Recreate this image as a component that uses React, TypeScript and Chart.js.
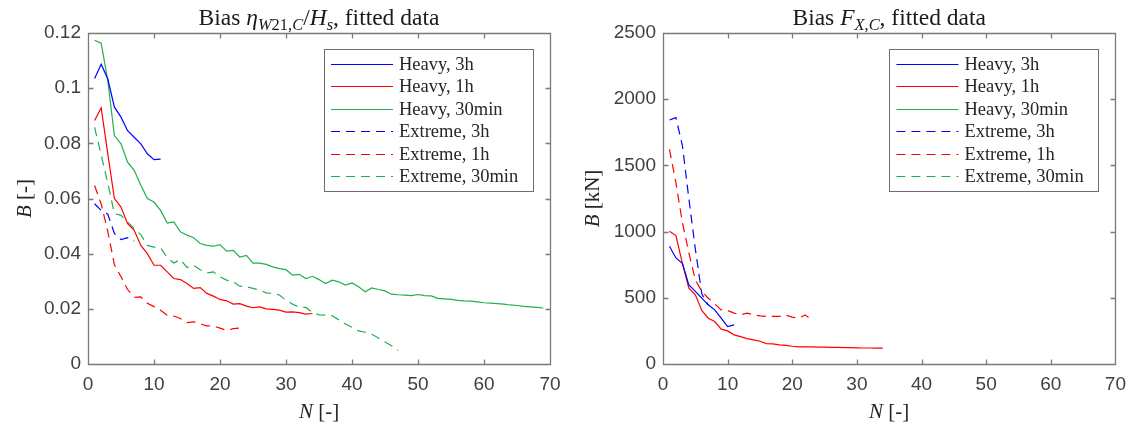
import React, { useEffect, useRef } from "react";
import { Chart, registerables } from "chart.js";

Chart.register(...registerables);

// ---------------- Data ----------------
const SERIES_LABELS = [
  "Heavy, 3h",
  "Heavy, 1h",
  "Heavy, 30min",
  "Extreme, 3h",
  "Extreme, 1h",
  "Extreme, 30min",
];

const X_TICKS = [0, 10, 20, 30, 40, 50, 60, 70];
const ETA_TICKS = [0, 0.02, 0.04, 0.06, 0.08, 0.1, 0.12];
const FX_TICKS = [0, 500, 1000, 1500, 2000, 2500];

// Left panel: bias of eta_W21,C / H_s, N = 1, 2, 3, ...
const etaHeavy3h = [0.1035, 0.1087, 0.1033, 0.0931, 0.0895, 0.0846, 0.0822, 0.0798, 0.0762, 0.0741, 0.0743];
const etaHeavy1h = [
  0.0883, 0.0928, 0.0762, 0.06, 0.0569, 0.0509, 0.0485, 0.043, 0.04, 0.0358, 0.0358, 0.0334, 0.031, 0.0306,
  0.0292, 0.0274, 0.0277, 0.0256, 0.0246, 0.0234, 0.0229, 0.0217, 0.0219, 0.021, 0.0204, 0.0207, 0.02, 0.0198,
  0.0195, 0.0188, 0.0189, 0.0186, 0.0181, 0.0183,
];
const etaHeavy30min = [
  0.1174, 0.1163, 0.1027, 0.0828, 0.0798, 0.0732, 0.0702, 0.0648, 0.06, 0.0587, 0.0557, 0.0511, 0.0515, 0.0479,
  0.0467, 0.0458, 0.0437, 0.043, 0.0427, 0.0433, 0.0409, 0.0412, 0.0388, 0.0394, 0.0366, 0.0366, 0.0361, 0.0352,
  0.0346, 0.0342, 0.0322, 0.0325, 0.031, 0.0318, 0.0306, 0.0292, 0.0304, 0.0298, 0.0286, 0.0294, 0.028, 0.0262,
  0.0276, 0.027, 0.0265, 0.0253, 0.0251, 0.025, 0.0248, 0.0252, 0.0248, 0.0247, 0.0238, 0.0236, 0.0234, 0.0231,
  0.0229, 0.0228, 0.0225, 0.0222, 0.0221, 0.0219, 0.0217, 0.0214, 0.0212, 0.0209, 0.0207, 0.0205, 0.0203,
];
const etaExtreme3h = [0.0581, 0.0557, 0.0543, 0.0473, 0.0451, 0.0458, 0.0446];
const etaExtreme1h = [
  0.0647, 0.058, 0.048, 0.036, 0.0316, 0.027, 0.0242, 0.0243, 0.022, 0.0208, 0.0195, 0.0177, 0.0174, 0.0165,
  0.015, 0.0153, 0.0145, 0.0138, 0.0138, 0.013, 0.0122, 0.0128, 0.013,
];
const etaExtreme30min = [
  0.0858, 0.0757, 0.0656, 0.0545, 0.0539, 0.0515, 0.0491, 0.0469, 0.043, 0.0424, 0.0421, 0.0386, 0.0366, 0.0379,
  0.035, 0.0358, 0.0342, 0.033, 0.0334, 0.0316, 0.0304, 0.0298, 0.0282, 0.028, 0.0274, 0.0268, 0.0258, 0.0256,
  0.025, 0.0231, 0.0217, 0.0205, 0.0205, 0.0187, 0.0178, 0.0177, 0.0175, 0.016, 0.0145, 0.0133, 0.012, 0.0115,
  0.0108, 0.0094, 0.008, 0.0066, 0.005,
];

// Right panel: bias of F_X,C [kN]
const fxHeavy3h = [889, 801, 760, 598, 548, 497, 447, 409, 346, 283, 295];
const fxHeavy1h = [
  1002, 970, 760, 573, 523, 404, 346, 321, 263, 250, 220, 207, 192, 182, 172, 154, 152, 144, 141, 134, 129, 129,
  129, 128, 127, 126, 125, 124, 123, 122, 121, 121, 120, 120,
];
const fxHeavy30min: number[] = [];
const fxExtreme3h = [1843, 1861, 1650, 1250, 870, 530, 445];
const fxExtreme1h = [
  1621, 1369, 1068, 840, 636, 548, 497, 454, 409, 404, 384, 371, 384, 371, 364, 359, 359, 359, 369, 354, 346, 371,
  333,
];
const fxExtreme30min: number[] = [];

// ---------------- Styling ----------------
const BLUE = "#0000ff";
const RED = "#ff0000";
const GREEN = "#1fb04e";
const SERIES_COLORS = [BLUE, RED, GREEN, BLUE, RED, GREEN];
const AXIS_COLOR = "#7a7a7a";
const TICK_TEXT = "#404040";
const SERIF = '"Liberation Serif", "DejaVu Serif", serif';
const SANS = '"Liberation Sans", Arial, sans-serif';

type Seg = { t: string; it?: boolean; sub?: boolean };

function segFont(s: Seg, size: number) {
  const sz = s.sub ? size * 0.7 : size;
  return `${s.it ? "italic " : ""}${sz}px ${SERIF}`;
}

function drawRich(ctx: CanvasRenderingContext2D, segs: Seg[], size: number, cx: number, baseline: number) {
  let total = 0;
  const widths: number[] = [];
  for (const s of segs) {
    ctx.font = segFont(s, size);
    const w = ctx.measureText(s.t).width;
    widths.push(w);
    total += w;
  }
  let x = cx - total / 2;
  ctx.textAlign = "left";
  ctx.textBaseline = "alphabetic";
  segs.forEach((s, i) => {
    ctx.font = segFont(s, size);
    ctx.fillText(s.t, x, baseline + (s.sub ? size * 0.22 : 0));
    x += widths[i];
  });
}

function makeDatasets(series: number[][]) {
  return series.map((vals, i) => ({
    label: SERIES_LABELS[i],
    data: vals.map((y, k) => ({ x: k + 1, y })),
    borderColor: SERIES_COLORS[i],
    backgroundColor: SERIES_COLORS[i],
    borderWidth: 1.2,
    borderDash: i >= 3 ? [9, 6] : [],
    pointRadius: 0,
    pointHoverRadius: 0,
    fill: false,
    tension: 0,
  }));
}

const framePlugin = {
  id: "matlabFrame",
  afterDatasetsDraw(chart: any) {
    const { ctx, chartArea: a, scales } = chart;
    const L = 5;
    ctx.save();
    ctx.strokeStyle = AXIS_COLOR;
    ctx.lineWidth = 1.3;
    ctx.setLineDash([]);
    const l = Math.round(a.left) + 0.5;
    const r = Math.round(a.right) + 0.5;
    const t = Math.round(a.top) + 0.5;
    const b = Math.round(a.bottom) + 0.5;
    ctx.beginPath();
    ctx.rect(l, t, r - l, b - t);
    scales.x.ticks.forEach((tk: any) => {
      const px = Math.round(scales.x.getPixelForValue(tk.value)) + 0.5;
      ctx.moveTo(px, b);
      ctx.lineTo(px, b - L);
      ctx.moveTo(px, t);
      ctx.lineTo(px, t + L);
    });
    scales.y.ticks.forEach((tk: any) => {
      const py = Math.round(scales.y.getPixelForValue(tk.value)) + 0.5;
      ctx.moveTo(l, py);
      ctx.lineTo(l + L, py);
      ctx.moveTo(r, py);
      ctx.lineTo(r - L, py);
    });
    ctx.stroke();
    ctx.restore();
  },
};

const legendPlugin = {
  id: "boxLegend",
  afterDraw(chart: any) {
    const { ctx, chartArea: a } = chart;
    const W = 209;
    const H = 142;
    const right = a.right - 17;
    const left = right - W;
    const top = a.top + 16;
    ctx.save();
    ctx.fillStyle = "#ffffff";
    ctx.fillRect(left, top, W, H);
    ctx.strokeStyle = "#6e6e6e";
    ctx.lineWidth = 1;
    ctx.setLineDash([]);
    ctx.strokeRect(Math.round(left) + 0.5, Math.round(top) + 0.5, W, H);
    chart.data.datasets.forEach((ds: any, i: number) => {
      const y = Math.round(top + 15 + i * 22.4) + 0.5;
      ctx.strokeStyle = ds.borderColor;
      ctx.lineWidth = 1.2;
      ctx.setLineDash(ds.borderDash || []);
      ctx.beginPath();
      ctx.moveTo(left + 7, y);
      ctx.lineTo(left + 69, y);
      ctx.stroke();
      ctx.setLineDash([]);
      ctx.fillStyle = "#262626";
      ctx.font = `18.5px ${SERIF}`;
      ctx.textAlign = "left";
      ctx.textBaseline = "middle";
      ctx.fillText(ds.label, left + 75, y + 1);
    });
    ctx.restore();
  },
};

function textPlugin(title: Seg[], yLabel: Seg[], yLabelX: number) {
  return {
    id: "richText",
    afterDraw(chart: any) {
      const { ctx, chartArea: a } = chart;
      const cx = (a.left + a.right) / 2;
      ctx.save();
      ctx.fillStyle = "#1a1a1a";
      drawRich(ctx, title, 23.5, cx, 25);
      ctx.fillStyle = "#262626";
      drawRich(ctx, [{ t: "N", it: true }, { t: " [-]" }], 21, cx, 418);
      ctx.translate(yLabelX, (a.top + a.bottom) / 2);
      ctx.rotate(-Math.PI / 2);
      drawRich(ctx, yLabel, 21, 0, 7);
      ctx.restore();
    },
  };
}

type PanelCfg = {
  series: number[][];
  yMin: number;
  yMax: number;
  yTicks: number[];
  leftWidth: number;
  canvasWidth: number;
  rightPad: number;
  title: Seg[];
  yLabel: Seg[];
  yLabelX: number;
};

function Panel({ cfg, left }: { cfg: PanelCfg; left: number }) {
  const ref = useRef<HTMLCanvasElement | null>(null);
  useEffect(() => {
    if (!ref.current) return;
    const chart = new Chart(ref.current, {
      type: "line",
      data: { datasets: makeDatasets(cfg.series) as any },
      options: {
        animation: false,
        responsive: false,
        devicePixelRatio: 1,
        layout: { padding: { top: 33, right: cfg.rightPad, left: 0, bottom: 0 } },
        events: [],
        plugins: { legend: { display: false }, tooltip: { enabled: false }, title: { display: false } },
        scales: {
          x: {
            type: "linear",
            min: X_TICKS[0],
            max: X_TICKS[X_TICKS.length - 1],
            afterBuildTicks: (s: any) => {
              s.ticks = X_TICKS.map((v) => ({ value: v }));
            },
            afterFit: (s: any) => {
              s.height = 65;
            },
            ticks: {
              autoSkip: false,
              maxRotation: 0,
              padding: 9,
              color: TICK_TEXT,
              font: { family: SANS, size: 19 },
              callback: (v: any) => String(v),
            },
            grid: { display: false, drawTicks: false },
            border: { display: false },
          },
          y: {
            type: "linear",
            min: cfg.yMin,
            max: cfg.yMax,
            afterBuildTicks: (s: any) => {
              s.ticks = cfg.yTicks.map((v) => ({ value: v }));
            },
            afterFit: (s: any) => {
              s.width = cfg.leftWidth;
            },
            ticks: {
              autoSkip: false,
              padding: 7,
              color: TICK_TEXT,
              font: { family: SANS, size: 19 },
              callback: (v: any) => String(Math.round(Number(v) * 10000) / 10000),
            },
            grid: { display: false, drawTicks: false },
            border: { display: false },
          },
        },
      },
      plugins: [framePlugin, legendPlugin, textPlugin(cfg.title, cfg.yLabel, cfg.yLabelX)],
    });
    return () => chart.destroy();
  }, [cfg]);
  return (
    <canvas
      ref={ref}
      width={cfg.canvasWidth}
      height={429}
      style={{ position: "absolute", left, top: 0, width: cfg.canvasWidth, height: 429 }}
    />
  );
}

const LEFT_CFG: PanelCfg = {
  series: [etaHeavy3h, etaHeavy1h, etaHeavy30min, etaExtreme3h, etaExtreme1h, etaExtreme30min],
  yMin: 0,
  yMax: 0.12,
  yTicks: ETA_TICKS,
  leftWidth: 88,
  canvasWidth: 570,
  rightPad: 20,
  title: [
    { t: "Bias " },
    { t: "η", it: true },
    { t: "W", it: true, sub: true },
    { t: "21,", sub: true },
    { t: "C", it: true, sub: true },
    { t: "/" },
    { t: "H", it: true },
    { t: "s", it: true, sub: true },
    { t: ", fitted data" },
  ],
  yLabel: [{ t: "B", it: true }, { t: " [-]" }],
  yLabelX: 24,
};

const RIGHT_CFG: PanelCfg = {
  series: [fxHeavy3h, fxHeavy1h, fxHeavy30min, fxExtreme3h, fxExtreme1h, fxExtreme30min],
  yMin: 0,
  yMax: 2500,
  yTicks: FX_TICKS,
  leftWidth: 93,
  canvasWidth: 565,
  rightPad: 16,
  title: [
    { t: "Bias " },
    { t: "F", it: true },
    { t: "X", it: true, sub: true },
    { t: ",", sub: true },
    { t: "C", it: true, sub: true },
    { t: ", fitted data" },
  ],
  yLabel: [{ t: "B", it: true }, { t: " [kN]" }],
  yLabelX: 22,
};

export default function App() {
  useEffect(() => {
    document.body.style.margin = "0";
    document.body.style.background = "#ffffff";
  }, []);
  return (
    <div style={{ position: "relative", width: 1135, height: 429, background: "#fff", overflow: "hidden" }}>
      <Panel cfg={LEFT_CFG} left={0} />
      <Panel cfg={RIGHT_CFG} left={570} />
    </div>
  );
}
